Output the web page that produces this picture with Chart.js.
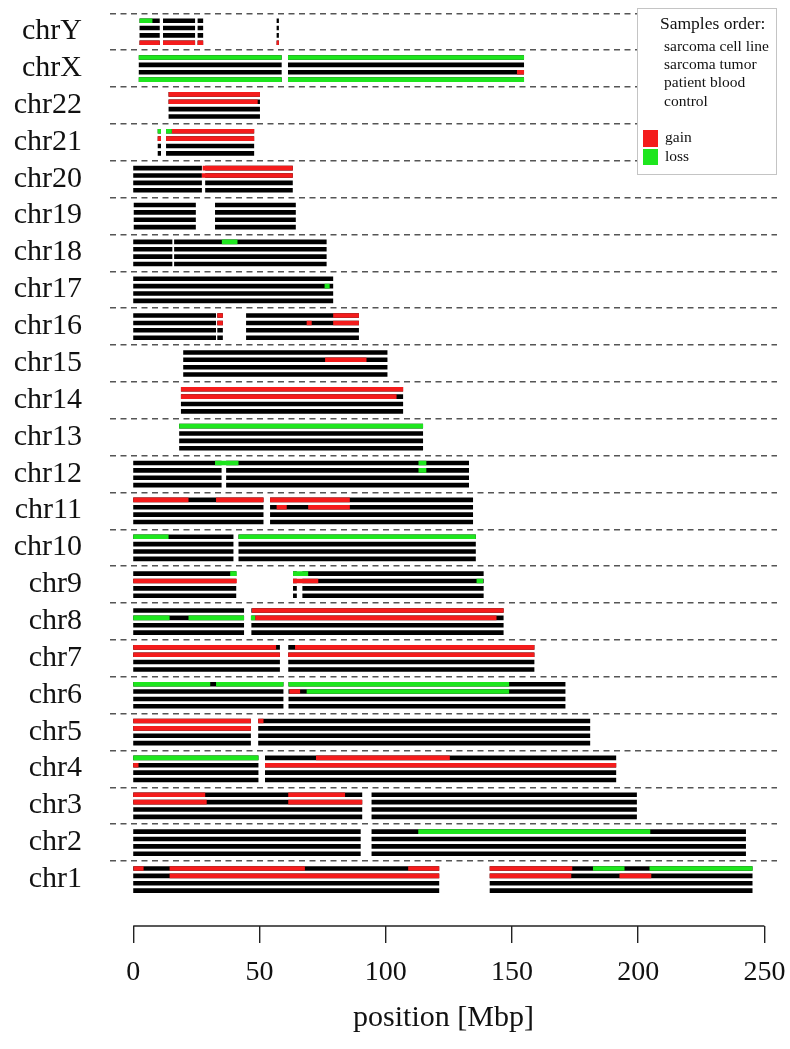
<!DOCTYPE html>
<html>
<head>
<meta charset="utf-8">
<script src="https://cdn.jsdelivr.net/npm/chart.js@4"></script>
<style>html,body{margin:0;padding:0;background:#fff}canvas{display:block}</style>
</head>
<body>
<canvas id="c" width="790" height="1049"></canvas>
<script>
// ---------- data ----------
const chromosomes = ['chr1','chr2','chr3','chr4','chr5','chr6','chr7','chr8','chr9','chr10','chr11','chr12',
  'chr13','chr14','chr15','chr16','chr17','chr18','chr19','chr20','chr21','chr22','chrX','chrY'];
const samples = ['sarcoma cell line','sarcoma tumor','patient blood','control'];
const xTicks = [0, 50, 100, 150, 200, 250];

// probe-covered regions (Mbp), same order as chromosomes
const covered = [
  [[0.0,121.2],[141.2,245.3]],
  [[0.0,90.1],[94.4,242.7]],
  [[0.0,90.7],[94.4,199.5]],
  [[0.0,49.6],[52.2,191.3]],
  [[0.0,46.6],[49.5,181.0]],
  [[0.0,59.5],[61.5,171.2]],
  [[0.0,58.1],[61.4,158.9]],
  [[0.0,43.9],[46.8,146.7]],
  [[0.0,40.8],[63.3,64.8],[67.0,138.8]],
  [[0.0,39.7],[41.7,135.7]],
  [[0.0,51.6],[54.2,134.6]],
  [[0.0,35.0],[36.8,133.0]],
  [[18.2,114.8]],
  [[18.9,106.9]],
  [[19.8,100.7]],
  [[0.0,32.8],[33.3,35.5],[44.7,89.4]],
  [[0.0,79.2]],
  [[0.0,15.5],[16.2,76.6]],
  [[0.2,24.8],[32.4,64.4]],
  [[0.0,27.2],[28.5,63.2]],
  [[9.7,11.0],[13.0,47.9]],
  [[14.0,50.2]],
  [[2.2,58.8],[61.3,154.8]],
  [[2.5,10.5],[11.8,24.5],[25.5,27.7],[56.8,57.7]]
];

// [chromosome, sample index, start, end] (Mbp)
const gains = [
  ['chr1',0,0.1,4.1],['chr1',0,14.4,68.0],['chr1',0,108.9,121.2],['chr1',0,141.2,173.9],
  ['chr1',1,14.4,121.2],['chr1',1,141.2,173.5],['chr1',1,192.6,205.2],
  ['chr3',0,0.0,28.5],['chr3',0,61.4,83.9],
  ['chr3',1,0.0,29.1],['chr3',1,61.4,90.7],
  ['chr4',0,72.4,125.4],
  ['chr4',1,0.0,2.1],['chr4',1,52.2,191.3],
  ['chr5',0,0.0,46.6],['chr5',0,49.5,51.6],
  ['chr5',1,0.0,46.6],
  ['chr6',1,61.8,66.1],
  ['chr7',0,0.0,56.6],['chr7',0,64.1,158.9],
  ['chr7',1,0.0,58.1],['chr7',1,61.4,158.9],
  ['chr8',0,47.0,146.7],
  ['chr8',1,48.3,143.9],
  ['chr9',1,0.0,41.0],['chr9',1,63.3,73.3],
  ['chr11',0,0.0,21.9],['chr11',0,32.8,51.6],['chr11',0,54.2,85.8],
  ['chr11',1,56.8,60.8],['chr11',1,69.3,85.8],
  ['chr14',0,18.9,106.9],
  ['chr14',1,18.9,104.3],
  ['chr15',1,76.0,92.4],
  ['chr16',0,33.3,35.5],['chr16',0,79.2,89.4],
  ['chr16',1,33.3,35.5],['chr16',1,68.7,70.7],['chr16',1,79.2,89.4],
  ['chr20',0,27.5,63.2],
  ['chr20',1,27.2,63.2],
  ['chr21',0,15.3,47.9],
  ['chr21',1,9.7,11.0],['chr21',1,13.0,47.9],
  ['chr22',0,14.0,50.2],
  ['chr22',1,14.0,49.3],
  ['chrX',2,152.0,154.8],
  ['chrY',3,2.5,10.5],['chrY',3,11.8,24.5],['chrY',3,25.5,27.7],['chrY',3,56.8,57.7]
];
const losses = [
  ['chr1',0,182.1,194.6],['chr1',0,204.5,245.3],
  ['chr2',0,112.9,204.8],
  ['chr4',0,0.0,49.6],
  ['chr6',0,0.0,30.5],['chr6',0,32.8,59.5],['chr6',0,61.5,148.9],
  ['chr6',1,68.7,148.9],
  ['chr8',1,0.0,14.4],['chr8',1,21.9,43.9],['chr8',1,46.6,48.3],
  ['chr9',0,38.4,41.0],['chr9',0,63.3,69.3],
  ['chr9',1,136.0,138.6],
  ['chr10',0,0.0,14.0],['chr10',0,41.7,135.7],
  ['chr12',0,32.4,41.7],['chr12',0,113.0,116.1],
  ['chr12',1,113.0,116.1],
  ['chr13',0,18.2,114.8],
  ['chr17',1,75.8,77.8],
  ['chr18',0,35.1,41.3],
  ['chr21',0,9.7,11.0],['chr21',0,13.0,15.3],
  ['chrX',0,2.2,58.8],['chrX',0,61.3,154.8],
  ['chrX',3,2.2,58.8],['chrX',3,61.3,154.8],
  ['chrY',0,2.5,7.6]
];

// ---------- helpers ----------
const BLOCK = 5; // y units per chromosome (4 sample rows + spacing)
const rowY = (ci, s) => ci * BLOCK + (BLOCK - 1) - s;
const gainColor = '#f41c1c';
const lossColor = '#1ee61e';

function segPoints(list) {
  const pts = [];
  list.forEach(([chr, s, a, b]) => {
    const y = rowY(chromosomes.indexOf(chr), s);
    pts.push({x: a, y: y}, {x: b, y: y}, {x: b, y: null});
  });
  return pts;
}
const baseSegments = [];
covered.forEach((regions, ci) => {
  samples.forEach((_, s) => {
    regions.forEach(([a, b]) => baseSegments.push([chromosomes[ci], s, a, b]));
  });
});

const lineDs = (label, data, color, order) => ({
  label, data, showLine: true, borderColor: color, backgroundColor: color,
  borderWidth: 4.6, pointRadius: 0, pointHoverRadius: 0, spanGaps: false,
  borderCapStyle: 'butt', order
});

const serif = '"Liberation Serif", "Times New Roman", serif';
const zeroPad = s => { s.paddingTop = 0; s.paddingBottom = 0; s.paddingLeft = 0; s.paddingRight = 0; };

const extras = {
  id: 'extras',
  afterDraw(chart) {
    const ctx = chart.ctx;
    const xs = chart.scales.x;
    const yb = chart.chartArea.bottom;
    ctx.save();
    // x axis line from first to last tick
    ctx.strokeStyle = '#222';
    ctx.lineWidth = 1.4;
    ctx.beginPath();
    ctx.moveTo(xs.getPixelForValue(xTicks[0]), yb);
    ctx.lineTo(xs.getPixelForValue(xTicks[xTicks.length - 1]), yb);
    ctx.stroke();
    // legend box
    ctx.fillStyle = '#fff';
    ctx.fillRect(637, 8, 140, 167);
    ctx.strokeStyle = '#c4c4c4';
    ctx.lineWidth = 1;
    ctx.strokeRect(637.5, 8.5, 139, 166);
    ctx.fillStyle = '#111';
    ctx.textBaseline = 'middle';
    ctx.textAlign = 'left';
    ctx.font = '17.5px ' + serif;
    ctx.fillText('Samples order:', 660, 24);
    ctx.font = '15.5px ' + serif;
    samples.forEach((s, i) => ctx.fillText(s, 664, 47 + 18.2 * i));
    ctx.fillStyle = gainColor;
    ctx.fillRect(643, 130, 15, 17);
    ctx.fillStyle = lossColor;
    ctx.fillRect(643, 149, 15, 16);
    ctx.fillStyle = '#111';
    ctx.fillText('gain', 665, 138);
    ctx.fillText('loss', 665, 157);
    ctx.restore();
  }
};

new Chart(document.getElementById('c'), {
  type: 'scatter',
  data: {
    datasets: [
      lineDs('loss', segPoints(losses), lossColor, 1),
      lineDs('gain', segPoints(gains), gainColor, 2),
      lineDs('normal', segPoints(baseSegments), '#000', 3)
    ]
  },
  options: {
    responsive: false,
    animation: false,
    devicePixelRatio: 1,
    layout: {padding: {top: 8, right: 13, bottom: 0, left: 0}},
    plugins: {legend: {display: false}, tooltip: {enabled: false}},
    scales: {
      x: {
        type: 'linear', min: -9.2, max: 255,
        afterBuildTicks: s => { s.ticks = xTicks.map(v => ({value: v})); },
        afterFit: s => { s.height = 123; zeroPad(s); },
        grid: {display: true, drawOnChartArea: false, drawTicks: true, tickLength: 17, color: '#222', lineWidth: 1.4},
        border: {display: false},
        ticks: {autoSkip: false, maxRotation: 0, padding: 13, color: '#111', font: {family: serif, size: 28}},
        title: {display: true, text: 'position [Mbp]', color: '#111', font: {family: serif, size: 30}, padding: {top: 0, bottom: 13}}
      },
      y: {
        type: 'linear', min: -3.8, max: 120.72,
        afterBuildTicks: s => { s.ticks = chromosomes.map((c, i) => ({value: (i + 1) * BLOCK})); },
        afterFit: s => { s.width = 110; zeroPad(s); },
        grid: {display: true, drawTicks: false, color: '#555', lineWidth: 1.6},
        border: {display: false, dash: [6, 4.5]},
        ticks: {
          autoSkip: false, padding: 28, labelOffset: 18, color: '#111',
          font: {family: serif, size: 30},
          callback: v => chromosomes[Math.round(v / BLOCK) - 1]
        }
      }
    }
  },
  plugins: [extras]
});
</script>
</body>
</html>
